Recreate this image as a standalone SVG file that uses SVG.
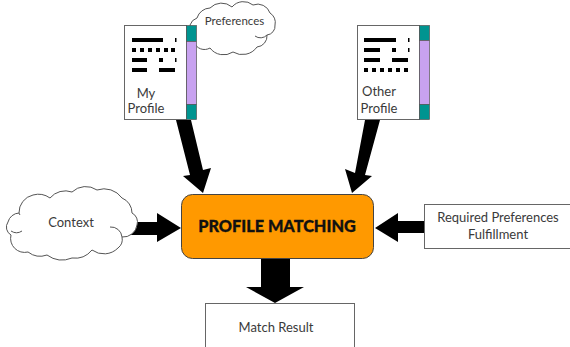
<svg xmlns="http://www.w3.org/2000/svg" width="570" height="347" viewBox="0 0 570 347">
<style>
text{font-family:"Lato","Liberation Sans",sans-serif;fill:#3a3a3a;text-anchor:middle;font-weight:400}
.t13{font-size:13px}
.box{fill:#fff;stroke:#666;stroke-width:1}
.cloud{fill:#fff;stroke:#555;stroke-width:1}
.curl{fill:none;stroke:#555;stroke-width:1}
.teal{fill:#009490;stroke:#555;stroke-width:.7}
.lilac{fill:#c8a2f0;stroke:#555;stroke-width:.7}
.d{fill:#000}
.arrow{fill:#000}
</style>
<rect width="570" height="347" fill="#fff"/>
<g id="connectors">
<polygon class="arrow" points="176,120 191,120 203,170 211,168 203,193 183,176 190,175"/>
<polygon class="arrow" points="365,120 380,120 365,175 372,176 352,193 345,169 355,173"/>
<polygon class="arrow" points="124,222 157,222 157,213 181,228 157,242 157,235 124,235"/>
<polygon class="arrow" points="375,228 398,213 398,221 424,221 424,233 398,233 398,242"/>
<polygon class="arrow" points="261,258 290,258 290,287 304,287 275,303 246,287 261,287"/>
</g>
<g id="preferences">
<path class="cloud" d="M190,25 A11,11 0 0 1 197,18 A14,14 0 0 1 210,8 A16,16 0 0 1 232,7 A15,15 0 0 1 253,5 A13,13 0 0 1 270,13 A11,11 0 0 1 275,25 A9,9 0 0 1 267,35 A11,11 0 0 1 257,47 A18,18 0 0 1 233,52 A17,17 0 0 1 210,48 A11,11 0 0 1 194,42 Z"/>
<path class="curl" d="M255,36 A9,9 0 0 0 267,35"/>
<text x="234.500" y="25" font-size="11.500">Preferences</text>
</g>
<g id="my-profile">
<rect class="box" x="124.500" y="25.500" width="62" height="94"/>
<rect class="teal" x="186.500" y="25.500" width="10" height="16"/>
<rect class="lilac" x="186.500" y="41.500" width="10" height="63"/>
<rect class="teal" x="186.500" y="104.500" width="10" height="15"/>
<path class="d" d="M132,38h31v4h-31zM175,38h1.500v4h-1.500zM132,48h4v4h-4zM140,48h4v4h-4zM148,48h4v4h-4zM156,48h4v4h-4zM164,48h4v4h-4zM171,48h4v4h-4zM132,58h15v4h-15zM159,58h4v4h-4zM175,58h1.500v4h-1.500zM132,68h15v4h-15zM159,68h16v4h-16z"/>
<text class="t13" x="146" y="98">My</text>
<text class="t13" x="146" y="113">Profile</text>
</g>
<g id="other-profile">
<rect class="box" x="357.500" y="25.500" width="62" height="94"/>
<rect class="teal" x="419.500" y="25.500" width="10" height="15"/>
<rect class="lilac" x="419.500" y="40.500" width="10" height="64"/>
<rect class="teal" x="419.500" y="104.500" width="10" height="15"/>
<path class="d" d="M364,38h32v4h-32zM408,38h1.500v4h-1.500zM364,48h16v4h-16zM392,48h4v4h-4zM408,48h1.500v4h-1.500zM364,58h16v4h-16zM392,58h16v4h-16zM364,68h4v4h-4zM372,68h4v4h-4zM380,68h4v4h-4zM388,68h4v4h-4zM396,68h4v4h-4zM404,68h4v4h-4z"/>
<text class="t13" x="379" y="96">Other</text>
<text class="t13" x="379" y="113">Profile</text>
</g>
<g id="context">
<path class="cloud" d="M8,222 A12,12 0 0 1 19,213 A18,18 0 0 1 33,195 A20,20 0 0 1 50,198 A20,20 0 0 1 72,192 A20,20 0 0 1 97,190 A22,22 0 0 1 122,198 A16,16 0 0 1 132,213 A10,10 0 0 1 137,225 A14,14 0 0 1 122,237 A11,11 0 0 1 118,248 A20,20 0 0 1 92,250 A22,22 0 0 1 72,258 A26,26 0 0 1 47,255 A20,20 0 0 1 28,252 A14,14 0 0 1 11,235 A9,9 0 0 1 8,222 Z"/>
<path class="curl" d="M11,231 A10,10 0 0 0 22,231 M110,227 A11,11 0 0 1 122,237 M19,213 A9,9 0 0 0 20,215"/>
<text class="t13" x="71" y="227">Context</text>
</g>
<g id="profile-matching">
<rect x="181.500" y="194.500" width="192" height="64" rx="11" fill="#ff9900" stroke="#444" stroke-width="1"/>
<text x="277" y="232" font-size="16.300" stroke="#111" stroke-width=".3" style="font-weight:900;fill:#111">PROFILE MATCHING</text>
</g>
<g id="required-preferences">
<rect class="box" x="424.500" y="204.500" width="150" height="44"/>
<text class="t13" x="498" y="222">Required Preferences</text>
<text class="t13" x="498" y="239">Fulfillment</text>
</g>
<g id="match-result">
<rect class="box" x="205.500" y="303.500" width="149" height="50"/>
<text class="t13" x="276" y="332">Match Result</text>
</g>
</svg>
